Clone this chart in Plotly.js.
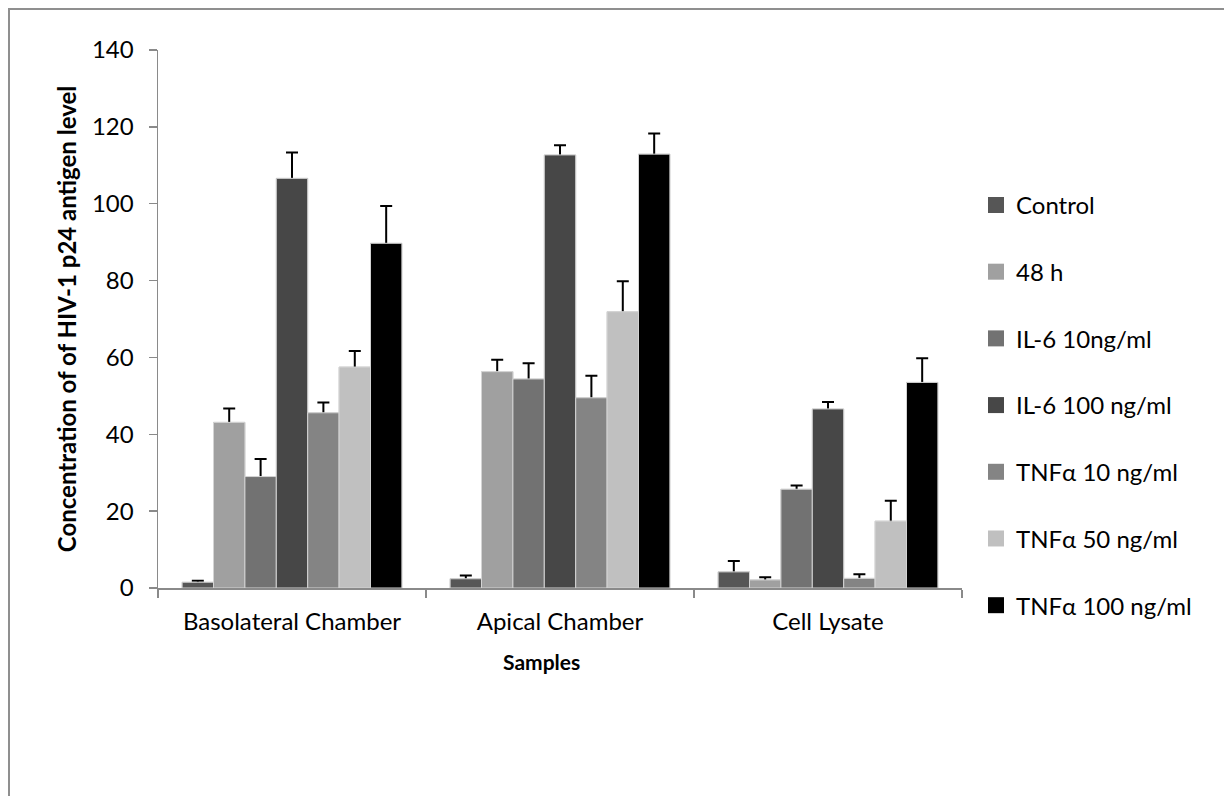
<!DOCTYPE html>
<html>
<head>
<meta charset="utf-8">
<script src="https://cdn.plot.ly/plotly-3.0.1.min.js"></script>
<style>
  html, body { margin: 0; padding: 0; background: #ffffff; overflow: hidden; }
  #chart { width: 1224px; height: 796px; }
  #frame { position: absolute; left: 8px; top: 8px; width: 1260px; height: 900px;
           border: 2px solid #8f8f8f; pointer-events: none; box-sizing: border-box; }
</style>
</head>
<body>
<div id="chart"></div>
<div id="frame"></div>
<script>
const categories = ["Basolateral Chamber", "Apical Chamber", "Cell Lysate"];
const seriesNames = ["Control", "48 h", "IL-6 10ng/ml", "IL-6 100 ng/ml", "TNFα 10 ng/ml", "TNFα 50 ng/ml", "TNFα 100 ng/ml"];
const seriesColors = ["#565656", "#a0a0a0", "#727272", "#474747", "#848484", "#c0c0c0", "#000000"];
const xTitle = "Samples";
const yTitle = "Concentration of of HIV-1 p24 antigen level";

const control   = [1.5, 2.4, 4.2];
const h48       = [43.1, 56.3, 2.1];
const il6_10    = [29.0, 54.4, 25.7];
const il6_100   = [106.6, 112.7, 46.6];
const tnf_10    = [45.6, 49.5, 2.5];
const tnf_50    = [57.5, 71.9, 17.4];
const tnf_100   = [89.7, 112.9, 53.5];

const controlErr = [0.4, 0.85, 2.8];
const h48Err     = [3.6, 3.1, 0.7];
const il6_10Err  = [4.6, 4.1, 1.0];
const il6_100Err = [6.7, 2.5, 1.8];
const tnf_10Err  = [2.7, 5.7, 1.1];
const tnf_50Err  = [4.2, 7.9, 5.3];
const tnf_100Err = [9.7, 5.4, 6.3];

const values = [control, h48, il6_10, il6_100, tnf_10, tnf_50, tnf_100];
const errors = [controlErr, h48Err, il6_10Err, il6_100Err, tnf_10Err, tnf_50Err, tnf_100Err];

const FONT = "Lato, 'Open Sans', sans-serif";
const traces = [];
// error-bar carriers (lower half of each error bar is hidden by the bar drawn over it)
for (let i = 0; i < seriesNames.length; i++) {
  traces.push({
    type: "bar", x: categories, y: values[i], name: seriesNames[i],
    offsetgroup: "g" + i, showlegend: false, hoverinfo: "skip",
    marker: { color: seriesColors[i], line: { color: "#d4d4d4", width: 1 } },
    error_y: { type: "data", array: errors[i], symmetric: true, color: "#000000", thickness: 2, width: 6 }
  });
}
// visible bars
for (let i = 0; i < seriesNames.length; i++) {
  traces.push({
    type: "bar", x: categories, y: values[i], name: seriesNames[i],
    offsetgroup: "g" + i, legendgroup: "l" + i, showlegend: false,
    marker: { color: seriesColors[i], line: { color: "#d4d4d4", width: 1 } }
  });
}
// legend keys (square swatches, no plotted points)
for (let i = 0; i < seriesNames.length; i++) {
  traces.push({
    type: "scatter", mode: "markers", x: [categories[0]], y: [null], name: seriesNames[i],
    legendgroup: "l" + i, hoverinfo: "skip",
    marker: { symbol: "square", size: 16, color: seriesColors[i], line: { width: 0 } }
  });
}

const layout = {
  width: 1224, height: 796,
  margin: { l: 158, r: 262, t: 50, b: 208 },
  paper_bgcolor: "rgba(0,0,0,0)", plot_bgcolor: "rgba(0,0,0,0)",
  barmode: "group", bargap: 0.18, bargroupgap: 0,
  font: { family: FONT, size: 24, color: "#000000" },
  xaxis: {
    type: "category", showline: true, linecolor: "#8a8a8a", linewidth: 1.5,
    ticks: "outside", tickson: "boundaries", ticklen: 8, tickcolor: "#8a8a8a", tickwidth: 1.5,
    ticklabelstandoff: 12,
    tickfont: { family: FONT, size: 24, color: "#000000" },
    showgrid: false, zeroline: false,
    title: { text: "" }
  },
  yaxis: {
    range: [0, 140], dtick: 20, tick0: 0, showline: true, linecolor: "#8a8a8a", linewidth: 1.5,
    ticks: "outside", ticklen: 8, tickcolor: "#8a8a8a", tickwidth: 1.5,
    ticklabelstandoff: 10,
    tickfont: { family: FONT, size: 24, color: "#000000" },
    showgrid: false, zeroline: false,
    title: { text: "<b>" + yTitle + "</b>", font: { family: FONT, size: 24, color: "#000000" }, standoff: 8 }
  },
  annotations: [{
    text: "<b>" + xTitle + "</b>", xref: "paper", yref: "paper",
    x: 0.4776, y: -0.1357, xanchor: "center", yanchor: "middle", showarrow: false,
    font: { family: FONT, size: 21, color: "#000000" }
  }],
  legend: {
    x: 1.0174, xanchor: "left", y: 0.753, yanchor: "top",
    traceorder: "grouped", tracegroupgap: 32.5, itemsizing: "trace",
    font: { family: FONT, size: 24, color: "#000000" },
    bgcolor: "rgba(0,0,0,0)", borderwidth: 0
  },
  showlegend: true
};

Plotly.newPlot("chart", traces, layout, { displayModeBar: false, staticPlot: true });
</script>
</body>
</html>
